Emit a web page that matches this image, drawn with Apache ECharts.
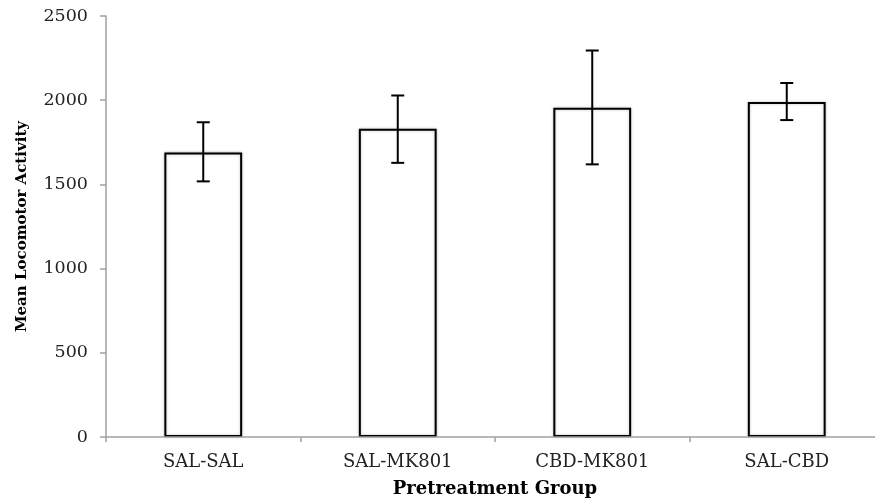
<!DOCTYPE html>
<html>
<head>
<meta charset="utf-8">
<script src="https://cdn.jsdelivr.net/npm/echarts@6/dist/echarts.min.js"></script>
<style>
  html, body { margin: 0; padding: 0; background: #fff; }
  #chart { width: 875px; height: 499px; }
</style>
</head>
<body>
<div id="chart"></div>
<script>
// 数据
var groups = ['SAL-SAL', 'SAL-MK801', 'CBD-MK801', 'SAL-CBD'];
var meanActivity = [1690, 1830, 1955, 1990];
var errLow = [1518, 1628, 1619, 1882];
var errHigh = [1869, 2028, 2295, 2102];

var chart = echarts.init(document.getElementById('chart'));
var serif = 'DejaVu Serif';

var option = {
  animation: false,
  grid: {
    left: 106,
    top: 16,
    width: 778,
    height: 421,
    containLabel: false,
    outerBoundsMode: 'none'
  },
  xAxis: {
    type: 'category',
    data: groups,
    z: 3,
    name: 'Pretreatment Group',
    nameLocation: 'middle',
    nameGap: 43,
    nameTextStyle: { fontFamily: serif, fontWeight: 'bold', fontSize: 18, color: '#000' },
    axisLine: { lineStyle: { color: '#a0a0a0', width: 1.5 } },
    axisTick: { show: true, length: 5, lineStyle: { color: '#a0a0a0', width: 1.5 } },
    axisLabel: { fontFamily: serif, fontSize: 18, color: '#222', margin: 16 }
  },
  yAxis: {
    type: 'value',
    min: 0,
    max: 2500,
    interval: 500,
    name: 'Mean Locomotor Activity',
    nameLocation: 'middle',
    nameGap: 76,
    nameTextStyle: { fontFamily: serif, fontWeight: 'bold', fontSize: 15, color: '#000' },
    splitLine: { show: false },
    axisLine: { show: true, lineStyle: { color: '#a0a0a0', width: 1.5 } },
    axisTick: { show: true, length: 6, lineStyle: { color: '#a0a0a0', width: 1.5 } },
    axisLabel: {
      fontFamily: serif, fontSize: 17.5, color: '#222', margin: 18,
      formatter: function (v) { return String(v); }
    }
  },
  series: [
    {
      type: 'bar',
      data: meanActivity,
      barWidth: '40%',
      itemStyle: {
        color: '#fff',
        borderColor: '#000',
        borderWidth: 2,
        shadowColor: 'rgba(0,0,0,0.25)',
        shadowBlur: 3
      }
    },
    {
      type: 'custom',
      data: groups.map(function (g, i) { return [i, errLow[i], errHigh[i]]; }),
      z: 5,
      renderItem: function (params, api) {
        var lo = api.coord([api.value(0), api.value(1)]);
        var hi = api.coord([api.value(0), api.value(2)]);
        var cap = 6.5;
        var st = { stroke: '#000', lineWidth: 2 };
        return {
          type: 'group',
          children: [
            { type: 'line', shape: { x1: hi[0], y1: hi[1], x2: lo[0], y2: lo[1] }, style: st },
            { type: 'line', shape: { x1: hi[0] - cap, y1: hi[1], x2: hi[0] + cap, y2: hi[1] }, style: st },
            { type: 'line', shape: { x1: lo[0] - cap, y1: lo[1], x2: lo[0] + cap, y2: lo[1] }, style: st }
          ]
        };
      }
    }
  ]
};

chart.setOption(option);
</script>
</body>
</html>
